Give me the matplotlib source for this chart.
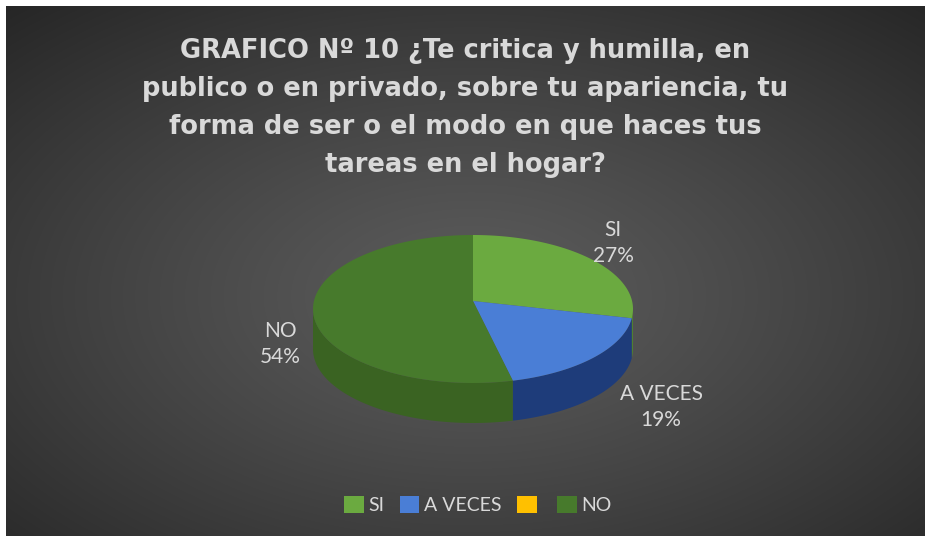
import numpy as np
import matplotlib.pyplot as plt
from matplotlib.patches import Polygon, Patch

# Datos
categorias = ["SI", "A VECES", "", "NO"]
valores = [27, 19, 0, 54]
etiquetas = ["SI\n27%", "A VECES\n19%", None, "NO\n54%"]
pos_etiquetas = [(613, 243), (661, 407), None, (280, 344)]
colores_sup = ["#6BAA40", "#4A7ED6", "#FFC000", "#477A2C"]
colores_lado = ["#4E8030", "#1E3C7A", "#B38600", "#3A6322"]

titulo = ("GRAFICO Nº 10 ¿Te critica y humilla, en\n"
          "publico o en privado, sobre tu apariencia, tu\n"
          "forma de ser o el modo en que haces tus\n"
          "tareas en el hogar?")

W, H = 931, 541
fig = plt.figure(figsize=(W / 100, H / 100), dpi=100)
fig.patch.set_facecolor("white")

# fondo gris con degradado radial
bg = fig.add_axes([6 / W, 5 / H, 919 / W, 530 / H])
yy, xx = np.mgrid[0:530, 0:919]
d = np.hypot((xx - 465) / 919, (yy - 290) / 530)
d = d / d.max()
c = 0.36 - 0.21 * d ** 1.2
bg.imshow(np.dstack([c, c, c]), aspect="auto", interpolation="bilinear")
bg.axis("off")

# ejes en pixeles para la torta 3D
ax = fig.add_axes([0, 0, 1, 1])
ax.set_xlim(0, W)
ax.set_ylim(H, 0)
ax.axis("off")
ax.patch.set_alpha(0)

cx, cy, rx, ry, prof = 473, 309, 160, 74, 40
vx, vy = 473, 301


def borde(t, dy=0):
    return np.column_stack([cx + rx * np.sin(t), cy - ry * np.cos(t) + dy])


ang = np.cumsum([0] + valores) / 100 * 2 * np.pi

# paredes laterales (solo la mitad de adelante)
for i in range(len(valores)):
    a0, a1 = ang[i], ang[i + 1]
    w0, w1 = max(a0, np.pi / 2), min(a1, 3 * np.pi / 2)
    if w1 > w0:
        t = np.linspace(w0, w1, 100)
        pts = np.vstack([borde(t), borde(t[::-1], prof)])
        ax.add_patch(Polygon(pts, closed=True, fc=colores_lado[i], ec="none"))

# caras superiores
for i in range(len(valores)):
    a0, a1 = ang[i], ang[i + 1]
    if a1 <= a0:
        continue
    t = np.linspace(a0, a1, 200)
    pts = np.vstack([[vx, vy], borde(t)])
    ax.add_patch(Polygon(pts, closed=True, fc=colores_sup[i], ec="none"))

for txt, p in zip(etiquetas, pos_etiquetas):
    if txt:
        ax.text(p[0], p[1], txt, ha="center", va="center", fontsize=15,
                color="#D9D9D9", family="Lato", linespacing=1.35)

fig.text(0.5, 1 - 108 / H, titulo, ha="center", va="center", fontsize=18.5,
         fontweight="bold", color="#D9D9D9", family="DejaVu Sans",
         linespacing=1.6)

handles = [Patch(fc=col, ec="none") for col in colores_sup]
fig.legend(handles, categorias, loc="center", bbox_to_anchor=(478 / W, 1 - 505 / H),
           ncol=4, frameon=False, handlelength=1.0, handleheight=1.0,
           handletextpad=0.25, columnspacing=0.8, labelcolor="#D9D9D9",
           prop={"family": "Lato", "size": 14})

fig.savefig("out.png", dpi=100, facecolor=fig.get_facecolor())
